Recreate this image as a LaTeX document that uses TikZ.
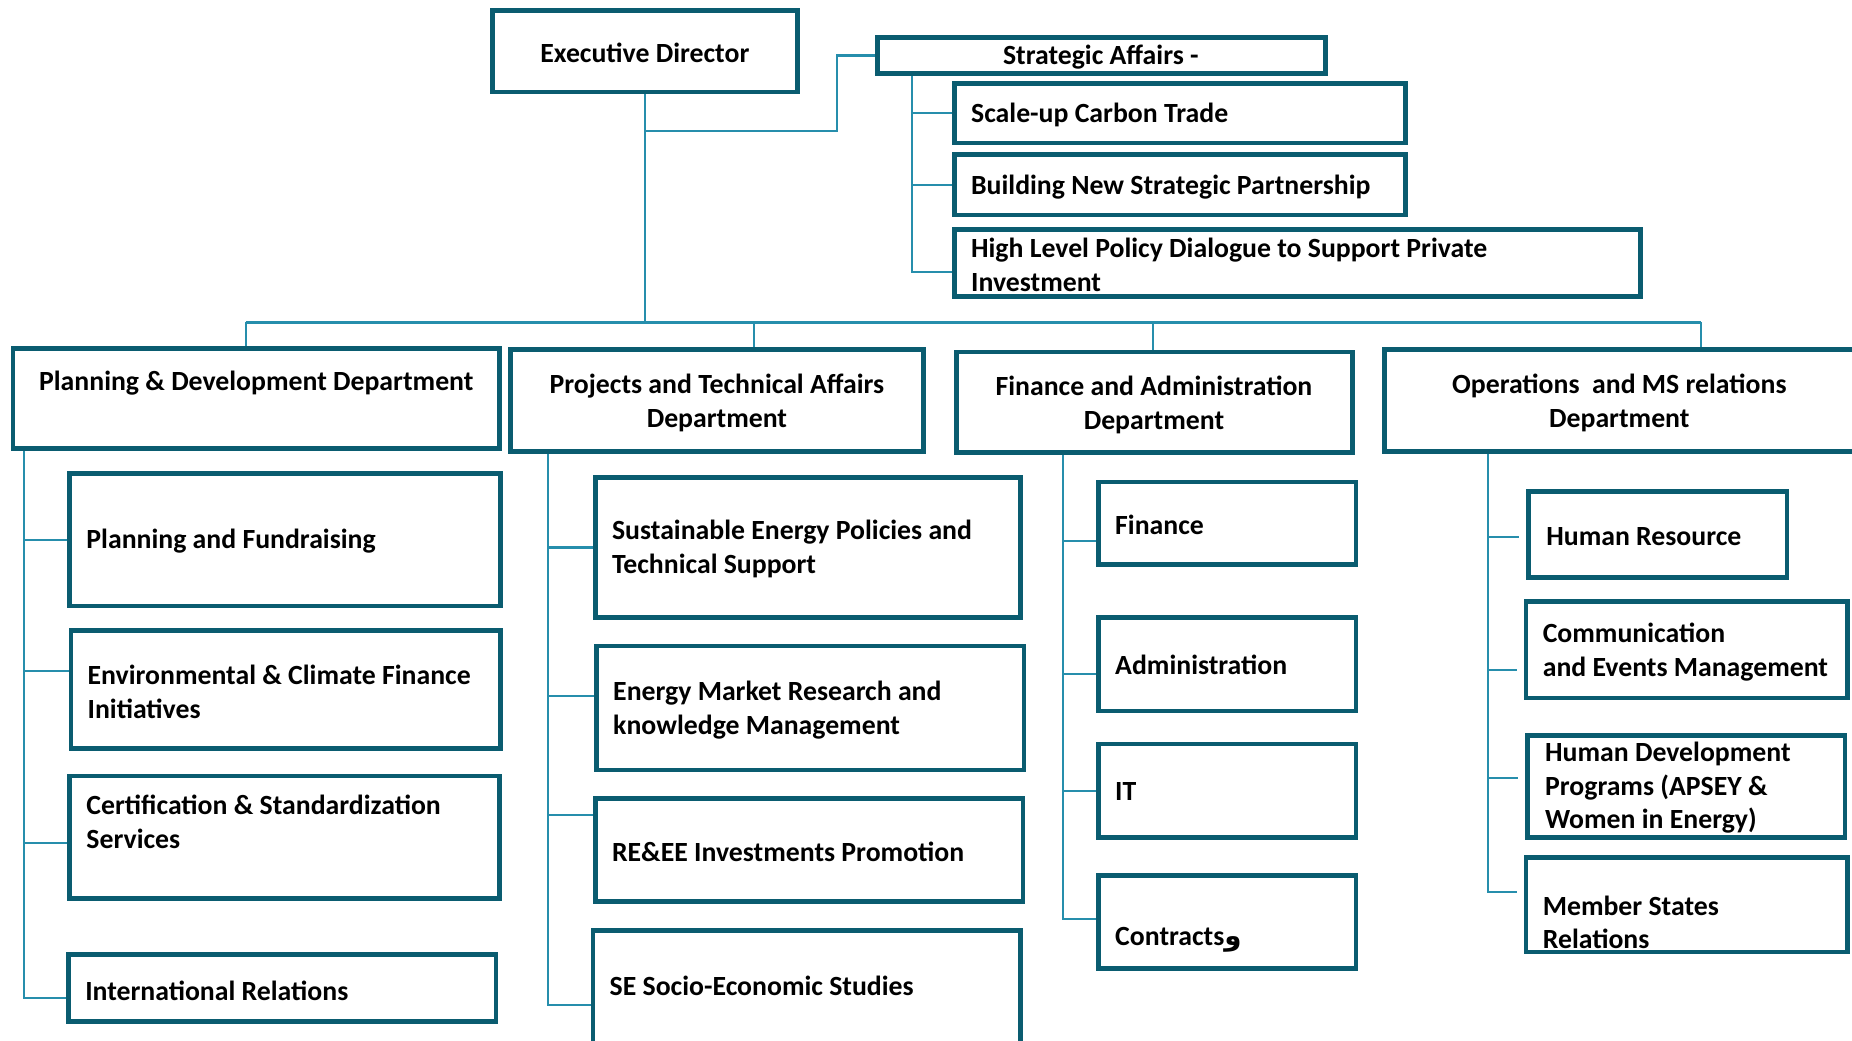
\documentclass[tikz,border=0pt]{standalone}
\usepackage{fontspec}
\setmainfont{Carlito}
\newfontfamily\arabicfont[Script=Arabic]{DejaVu Sans}
\TeXXeTstate=1
\usetikzlibrary{fit}

\definecolor{boxc}{RGB}{10,92,112}
\definecolor{linkc}{RGB}{38,142,172}
\tikzset{
  unit/.style={draw=boxc, line width=4pt, inner sep=0pt},
  lbl/.style={anchor=west, align=left, inner sep=0pt,
    font=\fontsize{23.5}{28.5}\selectfont\bfseries},
  mid/.style={lbl, anchor=center, align=center},
  link/.style={draw=linkc, line width=1.8pt}
}

\begin{document}
\begin{tikzpicture}[x=1pt, y=-1pt]
\useasboundingbox (0,0) rectangle (1568,881);

% director and strategic affairs
\node[unit, fit={(417,9) (675,78)}] (ed) {};
\node[mid] (ed-t) at (546,45) {Executive Director};
\node[unit, fit={(743,32) (1122,62)}] (sa) {};
\node[mid] (sa-t) at (932,48) {Strategic Affairs -};
\node[unit, fit={(808,71) (1190,121)}] (sct) {};
\node[lbl] (sct-t) at (822,97) {Scale-up Carbon Trade};
\node[unit, fit={(808,131) (1190,182)}] (bsp) {};
\node[lbl] (bsp-t) at (822,158) {Building New Strategic Partnership};
\node[unit, fit={(808,194) (1389,251)}] (hlp) {};
\node[lbl] (hlp-t) at (822,224) {High Level Policy Dialogue to Support Private\\Investment};

% departments
\node[unit, fit={(11,295) (423,380)}] (pdd) {};
\node[mid] (pdd-t) at (217,324) {Planning \& Development Department};
\node[unit, fit={(432,296) (782,382)}] (ptd) {};
\node[mid] (ptd-t) at (607,341) {Projects and Technical Affairs\\Department};
\node[unit, fit={(810,298) (1145,383)}] (fad) {};
\node[mid] (fad-t) at (977,343) {Finance and Administration\\Department};
\node[unit, fit={(1172,296) (1590,382)}] (omd) {};
\node[mid] (omd-t) at (1371,341) {Operations~ and MS relations\\Department};

% planning & development units
\node[unit, fit={(59,401) (424,513)}] (pf) {};
\node[lbl] (pf-t) at (73,458) {Planning and Fundraising};
\node[unit, fit={(60,534) (424,634)}] (ecf) {};
\node[lbl] (ecf-t) at (74,586) {Environmental \& Climate Finance\\Initiatives};
\node[unit, fit={(59,657) (423,761)}] (csv) {};
\node[lbl] (csv-t) at (73,696) {Certification \& Standardization\\Services};
\node[unit, fit={(58,808) (420,865)}] (ir) {};
\node[lbl] (ir-t) at (72,839) {International Relations};

% projects units
\node[unit, fit={(504,404) (864,523)}] (se) {};
\node[lbl] (se-t) at (518,465) {Sustainable Energy Policies and\\Technical Support};
\node[unit, fit={(505,547) (867,652)}] (em) {};
\node[lbl] (em-t) at (519,601) {Energy Market Research and\\knowledge Management};
\node[unit, fit={(504,676) (866,763)}] (re) {};
\node[lbl] (re-t) at (518,721) {RE\&EE Investments Promotion};
\node[unit, fit={(502,788) (864,900)}] (ses) {};
\node[lbl] (ses-t) at (516,835) {SE Socio-Economic Studies};

% finance units
\node[unit, fit={(930,408) (1148,478)}] (fin) {};
\node[lbl] (fin-t) at (944,444) {Finance};
\node[unit, fit={(930,523) (1148,602)}] (adm) {};
\node[lbl] (adm-t) at (944,563) {Administration};
\node[unit, fit={(930,630) (1148,709)}] (it) {};
\node[lbl] (it-t) at (944,670) {IT};
\node[unit, fit={(930,741) (1148,820)}] (con) {};
\node[lbl] (con-t) at (944,796) {Contracts{\arabicfont\beginR و\endR}};

% operations units
\node[unit, fit={(1294,416) (1513,489)}] (hr) {};
\node[lbl] (hr-t) at (1309,454) {Human Resource};
\node[unit, fit={(1292,509) (1564,591)}] (com) {};
\node[lbl] (com-t) at (1306,552) {Communication\\and Events Management};
\node[unit, fit={(1293,623) (1562,709)}] (hd) {};
\node[lbl] (hd-t) at (1308,667) {Human Development\\Programs (APSEY \&\\Women in Energy)};
\node[unit, fit={(1292,726) (1564,806)}] (ms) {};
\node[lbl] (ms-t) at (1306,781) {Member States\\Relations};

% connectors
\coordinate (bus) at (0,273);
\draw[link] (208,0 |- bus) -- (1440,0 |- bus);
\draw[link] (ed.south) -- (ed.south |- bus);
\foreach \d/\x in {pdd/208, ptd/638, fad/976, omd/1440}
  \draw[link] (\x,0 |- bus) -- (\x,0 |- \d.north);
\draw[link] (ed.south |- 0,111) -| ([xshift=-32pt]sa.west) -- (sa.west);

\foreach \n/\s in {sct/0, bsp/0, hlp/-7.5}
  \draw[link] ([yshift=\s pt]\n.west) -| ([xshift=31pt]sa.south west);
\foreach \n/\s in {pf/0, ecf/16, csv/-5, ir/-8.5}
  \draw[link] ([yshift=\s pt]\n.west) -| ([xshift=11pt]pdd.south west);
\foreach \n/\s in {se/0, em/10.5, re/29.5, ses/-7}
  \draw[link] ([yshift=\s pt]\n.west) -| ([xshift=34pt]ptd.south west);
\foreach \n/\s in {fin/-15, adm/-8.5, it/0, con/2.5}
  \draw[link] ([yshift=\s pt]\n.west) -| ([xshift=92pt]fad.south west);
\foreach \n/\s in {hr/-2.5, com/-17, hd/7, ms/11}
  \draw[link, shorten <=6pt] ([yshift=\s pt]\n.west) -| ([xshift=90pt]omd.south west);
\end{tikzpicture}
\end{document}
